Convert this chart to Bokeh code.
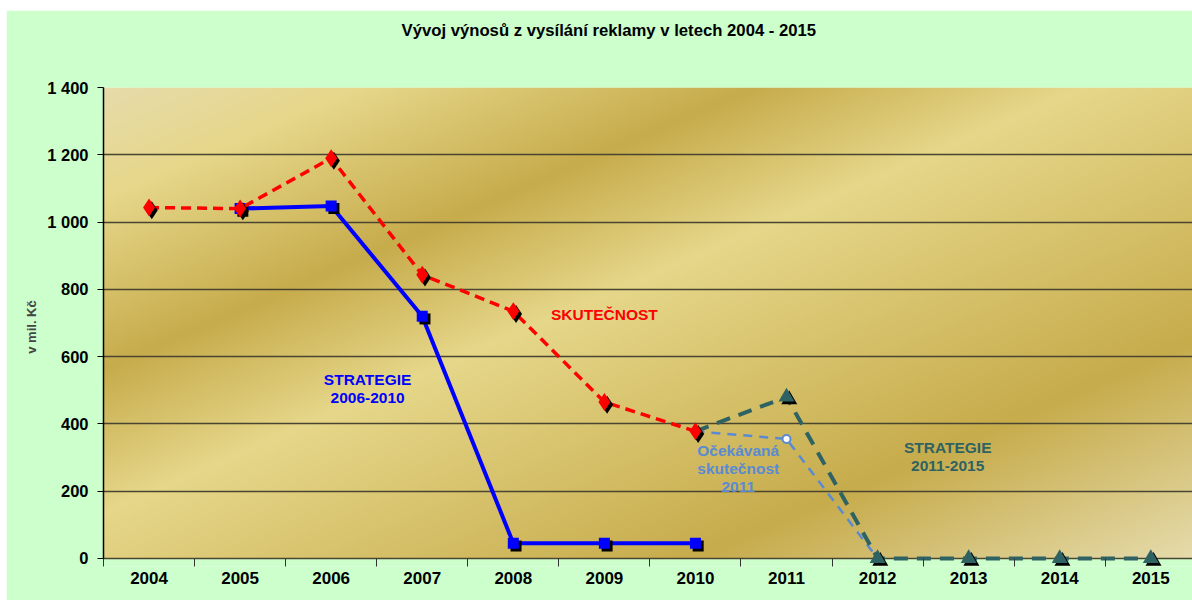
import numpy as np
from bokeh.plotting import figure
from bokeh.models import Range1d, FixedTicker, Spacer, Title
from bokeh.layouts import column, row
from bokeh.transform import dodge
from bokeh.core.properties import value
from bokeh.embed import file_html
from bokeh.resources import INLINE

# ---------------- data ----------------
years = [2004, 2005, 2006, 2007, 2008, 2009, 2010, 2011, 2012, 2013, 2014, 2015]

skut_years = [2004, 2005, 2006, 2007, 2008, 2009, 2010]
skut_vals = [1043, 1040, 1190, 843, 735, 465, 378]

str06_years = [2005, 2006, 2007, 2008, 2009, 2010]
str06_vals = [1040, 1048, 720, 45, 45, 45]

str11_years = [2010, 2011, 2012, 2013, 2014, 2015]
str11_vals = [378, 480, 0, 0, 0, 0]

ocek_years = [2010, 2011, 2012]
ocek_vals = [378, 355, 0]

y_ticks = [0, 200, 400, 600, 800, 1000, 1200, 1400]

title_text = "Vývoj výnosů z vysílání reklamy v letech 2004 - 2015"
y_label = "v mil. Kč"

FONT = "Liberation Sans"
RED = "#FF0000"
BLUE = "#0000FF"
TEAL = "#2F6262"
STEEL = "#5A8BD2"
GREEN = "#CCFFCC"

p = figure(width=1186, height=590, output_backend="svg", toolbar_location=None,
           x_range=Range1d(2003.5, 2015.458), y_range=Range1d(-24, 1400),
           min_border_left=97, min_border_right=0, min_border_top=77, min_border_bottom=34)
p.border_fill_color = GREEN
p.outline_line_color = None
p.background_fill_color = GREEN

# ---- gradient background (Excel "gold" preset, 45 deg) ----
nx, ny = 550, 236
xs = (np.arange(nx) + 0.5) / nx
ys_top = 1.0 - (np.arange(ny) + 0.5) / ny
t = (xs[None, :] + ys_top[:, None]) / 2.0
stops = [0.0, 0.12, 0.30, 0.45, 0.77, 1.0]
cols = np.array([[0xE6, 0xDC, 0xAC], [0xE6, 0xD7, 0x8A], [0xC7, 0xAC, 0x4C],
                 [0xE6, 0xD7, 0x8A], [0xC7, 0xAC, 0x4C], [0xE6, 0xDC, 0xAC]], dtype=float)
img = np.empty((ny, nx), dtype=np.uint32)
view = img.view(dtype=np.uint8).reshape((ny, nx, 4))
for c in range(3):
    view[:, :, c] = np.interp(t, stops, cols[:, c]).astype(np.uint8)
view[:, :, 3] = 255
x0, x1 = p.x_range.start, p.x_range.end
r_img = p.image_rgba(image=[img], x=x0, y=0, dw=x1 - x0, dh=1400)
r_img.level = "image"

# ---- axes ----
p.xaxis.ticker = FixedTicker(ticks=years, minor_ticks=[y + 0.5 for y in [years[0] - 1] + years])
p.xaxis.axis_line_color = None
p.xaxis.major_tick_out = 0
p.xaxis.major_tick_in = 0
p.xaxis.minor_tick_out = 0
p.xaxis.minor_tick_in = 8
p.xaxis.minor_tick_line_color = "#333333"
p.xaxis.major_label_standoff = 5
p.xaxis.major_label_text_font = FONT
p.xaxis.major_label_text_font_style = "bold"
p.xaxis.major_label_text_font_size = "17px"
p.xaxis.major_label_text_color = "#000000"

p.yaxis.bounds = (0, 1400)
p.yaxis.ticker = FixedTicker(ticks=y_ticks)
p.yaxis.major_label_overrides = {v: f"{v:,}".replace(",", " ") for v in y_ticks}
p.yaxis.major_tick_out = 6
p.yaxis.major_tick_in = 0
p.yaxis.minor_tick_out = 0
p.yaxis.minor_tick_in = 0
p.yaxis.axis_line_color = "#000000"
p.yaxis.axis_line_width = 1.5
p.yaxis.major_label_standoff = 9
p.yaxis.major_label_text_font = FONT
p.yaxis.major_label_text_font_style = "bold"
p.yaxis.major_label_text_font_size = "16.5px"
p.yaxis.major_label_text_color = "#000000"
p.yaxis.axis_label = y_label
p.yaxis.axis_label_text_font = FONT
p.yaxis.axis_label_text_font_style = "bold"
p.yaxis.axis_label_text_font_size = "13px"
p.yaxis.axis_label_standoff = 5

p.xgrid.grid_line_color = None
p.ygrid.ticker = FixedTicker(ticks=y_ticks)
p.ygrid.grid_line_color = "#4A4530"
p.ygrid.grid_line_width = 1.5

# ---- title ----
p.title.text = title_text
p.title.align = "left"
p.title.vertical_align = "middle"
p.title.offset = 298
p.title.text_font = FONT
p.title.text_font_style = "bold"
p.title.text_font_size = "16.7px"
p.title.text_color = "#000000"
p.title.standoff = 10
# empty spacer title between the frame and the title
p.add_layout(Title(text=" ", text_font_size="1px", standoff=39), "above")

# ---- series ----
dx, dy = 0.03, -8

# blue strategy 2006-2010
p.line(str06_years, str06_vals, line_color=BLUE, line_width=4)
p.scatter(x=dodge("x", dx), y=dodge("y", dy), source=dict(x=str06_years, y=str06_vals),
          marker="square", size=11, fill_color="#000000", line_color=None)
p.scatter(str06_years, str06_vals, marker="square", size=11, fill_color=BLUE, line_color=None)

# expected reality 2011
p.line(ocek_years, ocek_vals, line_color=STEEL, line_width=2.5, line_dash="9 7")
p.scatter(ocek_years[1:2], ocek_vals[1:2], marker="circle", size=8, fill_color="white",
          line_color=STEEL, line_width=2)

# strategy 2011-2015
p.line(str11_years, str11_vals, line_color=TEAL, line_width=4, line_dash="14 9")
p.scatter(x=dodge("x", dx), y=dodge("y", dy), source=dict(x=str11_years[1:], y=str11_vals[1:]),
          marker="triangle", size=16, fill_color="#000000", line_color=None)
p.scatter(str11_years[1:], str11_vals[1:], marker="triangle", size=16, fill_color=TEAL, line_color=None)

# reality
p.line(skut_years, skut_vals, line_color=RED, line_width=3.5, line_dash="10 6")
p.scatter(x=dodge("x", dx), y=dodge("y", dy), source=dict(x=skut_years, y=skut_vals),
          marker="diamond", size=18, fill_color="#000000", line_color=None)
p.scatter(skut_years, skut_vals, marker="diamond", size=18, fill_color=RED, line_color=None)

# ---- annotations ----
def label(x, y, txt, color):
    p.text(x=[x], y=[y], text=[txt], text_color=color, text_font=value(FONT),
           text_font_style="bold", text_font_size="15.5px", text_align="center",
           text_baseline="middle", text_line_height=1.05)

label(2009.0, 725, "SKUTEČNOST", RED)
label(2006.4, 505, "STRATEGIE\n2006-2010", BLUE)
label(2010.47, 268, "Očekávaná\nskutečnost\n2011", STEEL)
label(2012.77, 303, "STRATEGIE\n2011-2015", TEAL)

layout = column(Spacer(height=10), row(Spacer(width=6), p))
open("out.html", "w").write(file_html(layout, INLINE))
